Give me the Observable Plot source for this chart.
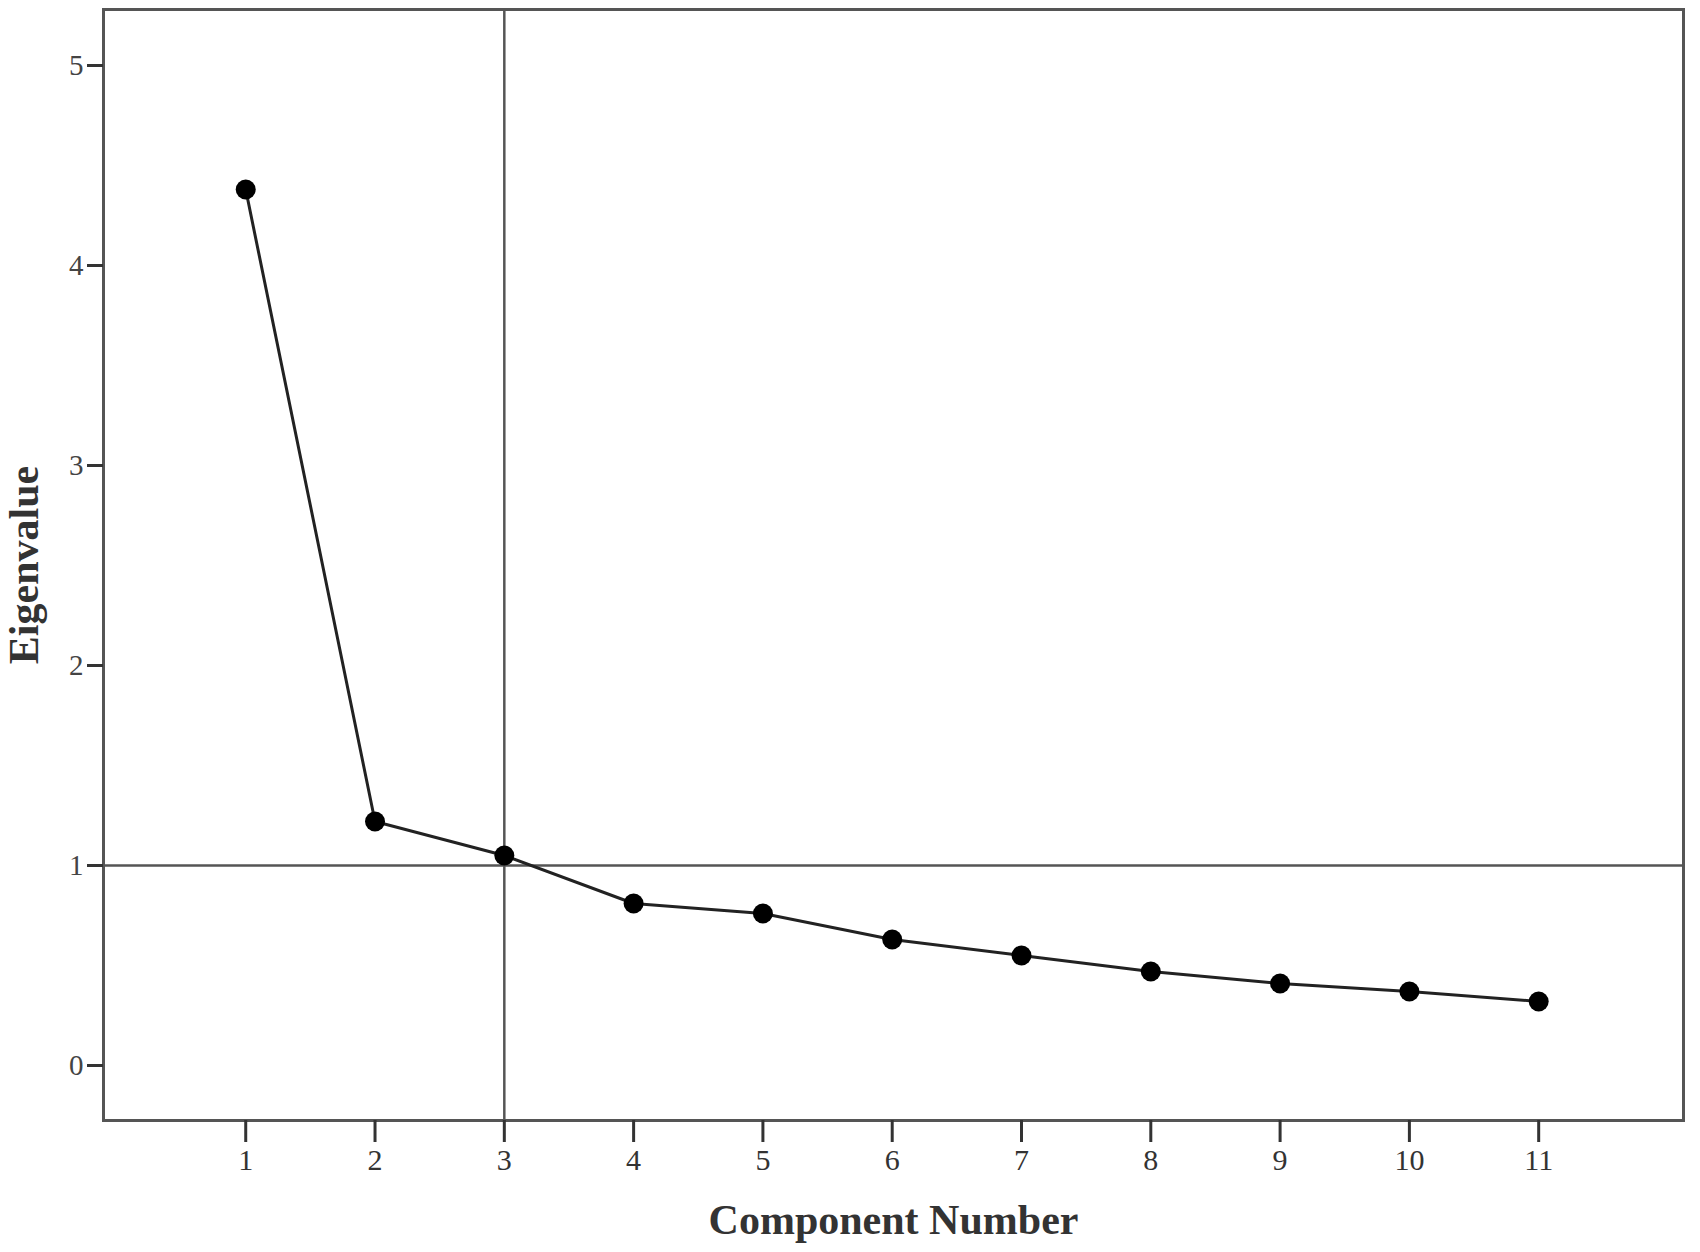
<!DOCTYPE html>
<html>
<head>
<meta charset="utf-8">
<script src="https://cdn.jsdelivr.net/npm/d3@7"></script>
<script src="https://cdn.jsdelivr.net/npm/@observablehq/plot@0.6"></script>
<style>
  html, body { margin: 0; padding: 0; background: #fff; }
  #chart { width: 1700px; height: 1252px; }
</style>
</head>
<body>
<div id="chart"></div>
<script>
const components = [1, 2, 3, 4, 5, 6, 7, 8, 9, 10, 11];
const eigenvalues = [4.38, 1.22, 1.05, 0.81, 0.76, 0.63, 0.55, 0.47, 0.41, 0.37, 0.32];
const xTicks = [1, 2, 3, 4, 5, 6, 7, 8, 9, 10, 11];
const yTicks = [0, 1, 2, 3, 4, 5];
const refX = [3];
const refY = [1];
const xTitle = "Component Number";
const yTitle = "Eigenvalue";

const data = components.map((c, i) => ({component: c, eigenvalue: eigenvalues[i]}));
const serif = "'Liberation Serif', 'Times New Roman', serif";

const chart = Plot.plot({
  width: 1700,
  height: 1252,
  marginLeft: 103,
  marginRight: 17,
  marginTop: 9,
  marginBottom: 132,
  style: {background: "#fff", fontFamily: serif},
  x: {domain: [-0.1, 12.12]},
  y: {domain: [-0.275, 5.28]},
  marks: [
    Plot.ruleX(refX, {stroke: "#555", strokeWidth: 2.5}),
    Plot.ruleY(refY, {stroke: "#555", strokeWidth: 2.5}),
    Plot.line(data, {x: "component", y: "eigenvalue", stroke: "#222", strokeWidth: 3}),
    Plot.dot(data, {x: "component", y: "eigenvalue", r: 10, fill: "#000", stroke: "none"}),
    Plot.frame({stroke: "#555", strokeWidth: 3}),
    Plot.axisX({ticks: xTicks, tickFormat: d => String(d), tickSize: 22, tickPadding: 6, strokeWidth: 3, stroke: "#333", color: "#333", fontSize: 30, fontFamily: serif, label: null}),
    Plot.axisY({ticks: yTicks, tickFormat: d => String(d), tickSize: 16, tickPadding: 4, strokeWidth: 3, stroke: "#333", color: "#444", fontSize: 29, fontFamily: serif, label: null}),
    Plot.text([xTitle], {frameAnchor: "bottom", dy: 113, text: d => d, textAnchor: "middle", fontSize: 42, fontWeight: "bold", fontFamily: serif, fill: "#333"}),
    Plot.text([yTitle], {frameAnchor: "left", dx: -79, rotate: -90, text: d => d, textAnchor: "middle", fontSize: 42, fontWeight: "bold", fontFamily: serif, fill: "#333"})
  ]
});
document.getElementById("chart").appendChild(chart);
</script>
</body>
</html>
